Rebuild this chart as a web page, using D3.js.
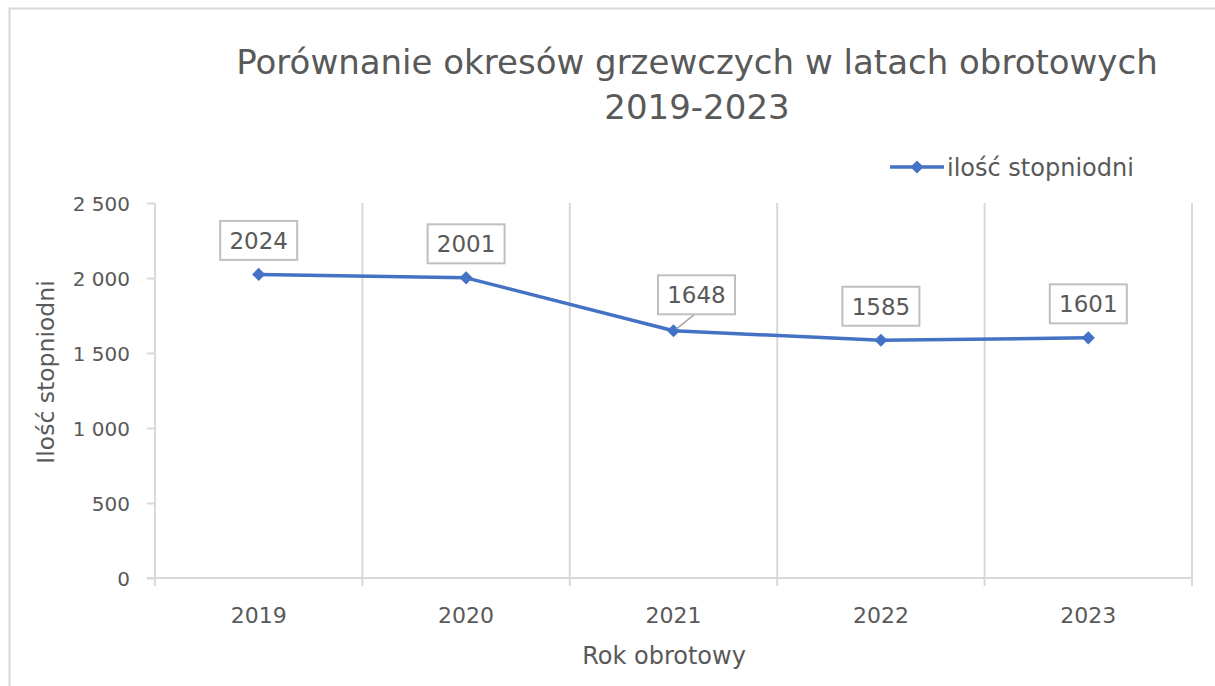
<!DOCTYPE html>
<html>
<head>
<meta charset="utf-8">
<script src="https://cdn.jsdelivr.net/npm/d3@7"></script>
<style>
  html, body { margin: 0; padding: 0; background: #fff; }
  svg text { font-family: "DejaVu Sans", sans-serif; fill: #595959; }
</style>
</head>
<body>
<div id="chart"></div>
<script>
// ---- data ----
const years = ["2019", "2020", "2021", "2022", "2023"];
const degreeDays = [2024, 2001, 1648, 1585, 1601];
const yTicks = [0, 500, 1000, 1500, 2000, 2500];

const titleLines = ["Porównanie okresów grzewczych w latach obrotowych", "2019-2023"];
const seriesName = "ilość stopniodni";
const xTitle = "Rok obrotowy";
const yTitle = "Ilość stopniodni";

// ---- layout ----
const width = 1215, height = 686;
const plot = { left: 155, right: 1192, top: 203, bottom: 578 };
const lineColor = "#4472C4";
const gridColor = "#d9d9d9";

const svg = d3.select("#chart").append("svg")
  .attr("width", width)
  .attr("height", height);

// chart area border (cut off on right/bottom like the screenshot)
svg.append("rect")
  .attr("x", 9.5).attr("y", 8.5)
  .attr("width", width + 20).attr("height", height + 20)
  .attr("fill", "#fff")
  .attr("stroke", gridColor)
  .attr("stroke-width", 2);

// scales
const x = d3.scaleBand().domain(years).range([plot.left, plot.right]);
const y = d3.scaleLinear().domain([0, 2500]).range([plot.bottom, plot.top]);

// vertical gridlines at category boundaries
const bounds = years.map(d => x(d)).concat([plot.right]);
svg.append("g")
  .selectAll("line")
  .data(bounds.slice(1))
  .enter().append("line")
  .attr("x1", d => d).attr("x2", d => d)
  .attr("y1", plot.top).attr("y2", plot.bottom)
  .attr("stroke", gridColor).attr("stroke-width", 2);

// y axis
const yAxis = svg.append("g")
  .attr("transform", `translate(${plot.left},0)`)
  .call(d3.axisLeft(y).tickValues(yTicks).tickSize(8).tickPadding(17)
    .tickFormat(d => d3.format(",")(d).replace(/,/g, " ")));
yAxis.select(".domain").attr("stroke", gridColor).attr("stroke-width", 2)
  .attr("d", `M0,${plot.top}V${plot.bottom}`);
yAxis.selectAll(".tick line").attr("stroke", gridColor).attr("stroke-width", 2);
yAxis.selectAll(".tick text").attr("font-size", 20).attr("fill", "#595959").attr("dy", "0.36em");

// x axis
const xAxisG = svg.append("g");
xAxisG.append("line")
  .attr("x1", plot.left - 8).attr("x2", plot.right)
  .attr("y1", plot.bottom).attr("y2", plot.bottom)
  .attr("stroke", gridColor).attr("stroke-width", 2);
xAxisG.selectAll("line.tick")
  .data(bounds)
  .enter().append("line")
  .attr("class", "tick")
  .attr("x1", d => d).attr("x2", d => d)
  .attr("y1", plot.bottom).attr("y2", plot.bottom + 8)
  .attr("stroke", gridColor).attr("stroke-width", 2);
xAxisG.selectAll("text")
  .data(years)
  .enter().append("text")
  .attr("x", d => x(d) + x.bandwidth() / 2)
  .attr("y", 623)
  .attr("text-anchor", "middle")
  .attr("font-size", 22)
  .text(d => d);

// line + markers
const pts = years.map((d, i) => ({ year: d, value: degreeDays[i] }));
const line = d3.line()
  .x(d => x(d.year) + x.bandwidth() / 2)
  .y(d => y(d.value));

svg.append("path")
  .datum(pts)
  .attr("d", line)
  .attr("fill", "none")
  .attr("stroke", lineColor)
  .attr("stroke-width", 3.5)
  .attr("stroke-linejoin", "round");

const diamond = d3.symbol().type(d3.symbolDiamond2).size(110);
svg.append("g")
  .selectAll("path")
  .data(pts)
  .enter().append("path")
  .attr("d", diamond)
  .attr("transform", d => `translate(${x(d.year) + x.bandwidth() / 2},${y(d.value)})`)
  .attr("fill", lineColor);

// data labels (2021 label was nudged right in the original, with a leader line)
const labelShift = { "2021": [23, -2] };
const labels = svg.append("g");
pts.forEach(d => {
  const px = x(d.year) + x.bandwidth() / 2;
  const py = y(d.value);
  const [sx, sy] = labelShift[d.year] || [0, 0];
  const cx = px + sx, cy = py - 34 + sy;
  const g = labels.append("g");
  const bw = 77, bh = 39;
  if (labelShift[d.year]) {
    g.append("line")
      .attr("x1", cx - 2).attr("y1", cy + bh / 2)
      .attr("x2", px + 3).attr("y2", py - 2)
      .attr("stroke", "#a6a6a6").attr("stroke-width", 1.5);
  }
  g.append("rect")
    .attr("x", cx - bw / 2).attr("y", cy - bh / 2)
    .attr("width", bw).attr("height", bh)
    .attr("fill", "#fff")
    .attr("stroke", "#bfbfbf").attr("stroke-width", 2);
  g.append("text")
    .attr("x", cx).attr("y", cy)
    .attr("dy", "0.36em")
    .attr("text-anchor", "middle")
    .attr("font-size", 23)
    .text(d.value);
});

// title
svg.append("g")
  .selectAll("text")
  .data(titleLines)
  .enter().append("text")
  .attr("x", 697)
  .attr("y", (d, i) => 74 + i * 45)
  .attr("text-anchor", "middle")
  .attr("font-size", 34)
  .text(d => d);

// legend
const legend = svg.append("g").attr("transform", "translate(890,167)");
legend.append("line")
  .attr("x1", 0).attr("x2", 54)
  .attr("stroke", lineColor).attr("stroke-width", 3.5);
legend.append("path")
  .attr("d", diamond)
  .attr("transform", "translate(27,0)")
  .attr("fill", lineColor);
legend.append("text")
  .attr("x", 57).attr("dy", "0.36em")
  .attr("font-size", 24)
  .text(seriesName);

// axis titles
svg.append("text")
  .attr("x", 664).attr("y", 664)
  .attr("text-anchor", "middle")
  .attr("font-size", 24)
  .text(xTitle);

svg.append("text")
  .attr("transform", "translate(54,372) rotate(-90)")
  .attr("text-anchor", "middle")
  .attr("font-size", 23.5)
  .text(yTitle);
</script>
</body>
</html>
